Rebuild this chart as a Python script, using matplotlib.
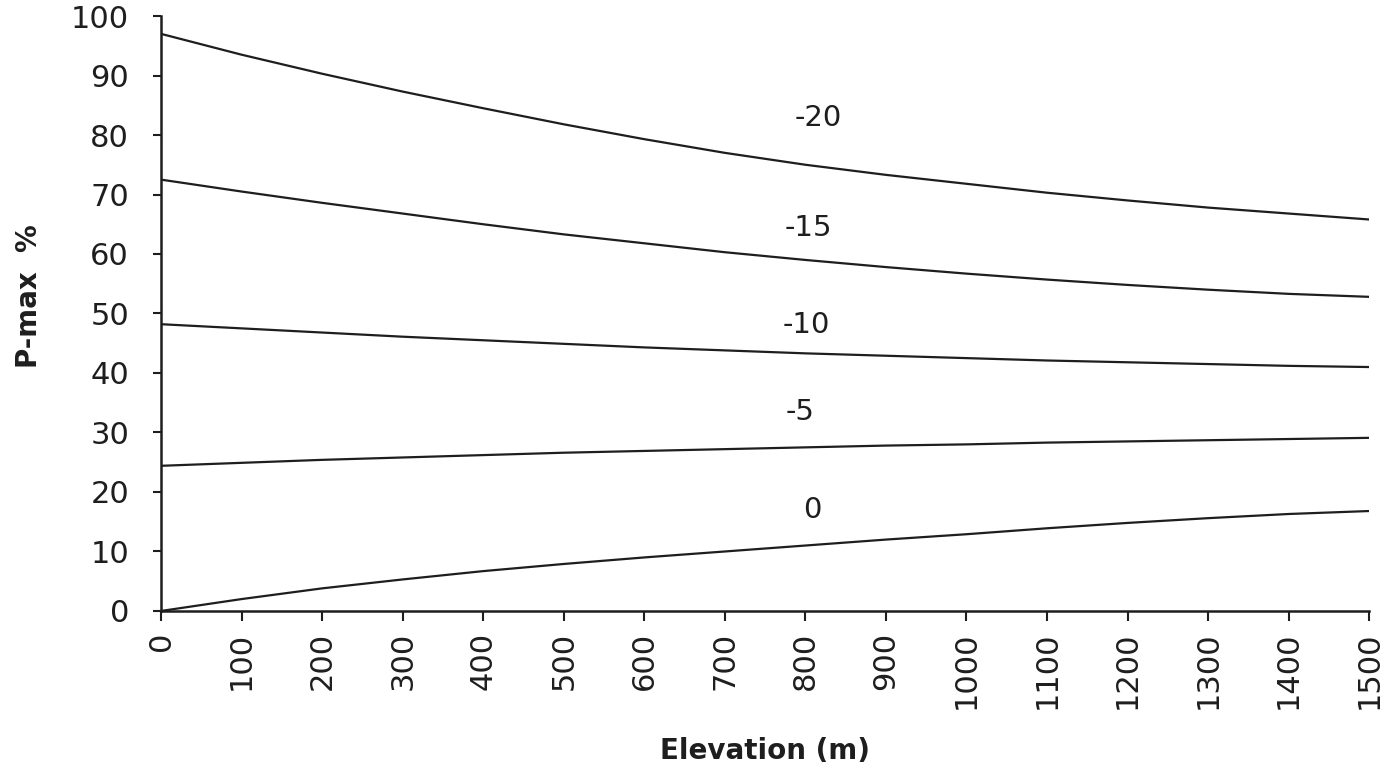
import matplotlib
matplotlib.use("Agg")
import matplotlib.pyplot as plt

elevation = [0, 100, 200, 300, 400, 500, 600, 700, 800, 900, 1000, 1100, 1200, 1300, 1400, 1500]
p_m20 = [97.0, 93.5, 90.3, 87.3, 84.5, 81.8, 79.3, 77.0, 75.0, 73.3, 71.8, 70.3, 69.0, 67.8, 66.8, 65.8]
p_m15 = [72.5, 70.5, 68.6, 66.8, 65.0, 63.3, 61.8, 60.3, 59.0, 57.8, 56.7, 55.7, 54.8, 54.0, 53.3, 52.8]
p_m10 = [48.2, 47.5, 46.8, 46.1, 45.5, 44.9, 44.3, 43.8, 43.3, 42.9, 42.5, 42.1, 41.8, 41.5, 41.2, 41.0]
p_m5 = [24.4, 24.9, 25.4, 25.8, 26.2, 26.6, 26.9, 27.2, 27.5, 27.8, 28.0, 28.3, 28.5, 28.7, 28.9, 29.1]
p_0 = [0.0, 2.0, 3.8, 5.3, 6.7, 7.9, 9.0, 10.0, 11.0, 12.0, 12.9, 13.9, 14.8, 15.6, 16.3, 16.8]

series = [p_m20, p_m15, p_m10, p_m5, p_0]
curve_labels = ["-20", "-15", "-10", "-5", "0"]
label_x = [816, 804, 801, 794, 809]
label_y = [82.9, 64.4, 48.1, 33.4, 17.0]

xticks = list(range(0, 1501, 100))
yticks = list(range(0, 101, 10))

fig = plt.figure(figsize=(14, 7.81), dpi=100)
ax = fig.add_axes([0.115, 0.2177, 0.863, 0.7618])

col = "#1e1e1e"
for s in series:
    ax.plot(elevation, s, color=col, lw=1.6)

for t, lx, ly in zip(curve_labels, label_x, label_y):
    ax.text(lx, ly, t, fontsize=21, ha="center", va="center", color=col)

ax.set_xlim(0, 1500)
ax.set_ylim(0, 100)
ax.set_xticks(xticks)
ax.set_yticks(yticks)
ax.set_xticklabels([str(v) for v in xticks], rotation=90, fontsize=22, color=col)
ax.set_yticklabels([str(v) for v in yticks], fontsize=22, color=col)
ax.tick_params(axis="y", length=6, width=1.5, pad=17, color=col)
ax.tick_params(axis="x", length=7, width=1.5, pad=8, color=col)

for sp in ["top", "right"]:
    ax.spines[sp].set_visible(False)
for sp in ["left", "bottom"]:
    ax.spines[sp].set_linewidth(1.8)
    ax.spines[sp].set_color(col)

ax.set_xlabel("Elevation (m)", fontsize=20, fontweight="bold", color=col, labelpad=20)
ax.set_ylabel("P-max  %", fontsize=20, fontweight="bold", color=col, labelpad=16)
ax.yaxis.set_label_coords(-0.098, 0.53)

fig.savefig("out.png", dpi=100, facecolor="white")
